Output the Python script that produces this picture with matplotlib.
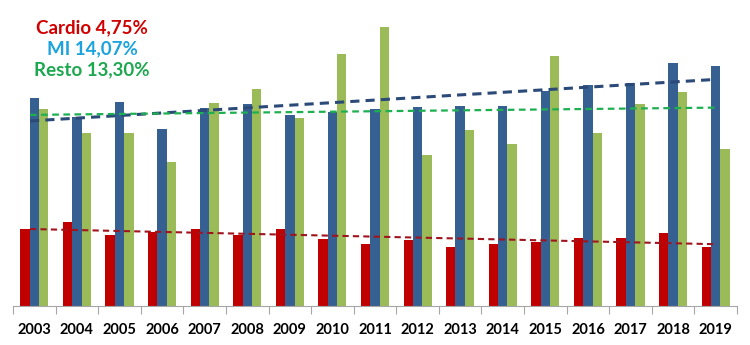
import numpy as np
import matplotlib
matplotlib.use("Agg")
import matplotlib.pyplot as plt

years = [str(y) for y in range(2003, 2020)]
cardio = [77, 84, 71, 74, 77, 71, 77, 67, 62, 66, 59, 62, 64, 68, 68, 73, 59]
mi = [208, 189, 204, 177, 198, 202, 191, 194, 197, 199, 200, 200, 215, 221, 223, 243, 240]
resto = [197, 173, 173, 144, 203, 217, 188, 252, 279, 151, 176, 162, 250, 173, 202, 214, 157]
labels = ["Cardio 4,75%", "MI 14,07%", "Resto 13,30%"]

bar_colors = ["#C00000", "#376092", "#9BBB59"]
trend_colors = ["#A0141E", "#2B4A78", "#1DB050"]
text_colors = ["#D00000", "#1AA3DC", "#1DA850"]

fig = plt.figure(figsize=(7.5, 3.45), dpi=100)
ax = fig.add_axes([13 / 750, 39 / 345, 724 / 750, 286 / 345])

x = np.arange(len(years))
w = 0.22
for i, (vals, c) in enumerate(zip([cardio, mi, resto], bar_colors)):
    ax.bar(x + (i - 1) * w, vals, width=w, color=c, zorder=2)

# linear trend lines
lw = [1.5, 2.2, 1.6]
for i, vals in enumerate([cardio, mi, resto]):
    k, b = np.polyfit(x, vals, 1)
    ax.plot([x[0] - 0.1, x[-1]], [k * (x[0] - 0.1) + b, k * x[-1] + b],
            ls=(0, (3, 2)), color=trend_colors[i], lw=lw[i], zorder=3)

ax.set_xlim(-0.5, len(years) - 0.5)
ax.set_ylim(0, 286)
ax.set_yticks([])
for s in ["top", "right", "left"]:
    ax.spines[s].set_visible(False)
ax.spines["bottom"].set_color("#A6A6A6")

ax.set_xticks(np.arange(-0.5, len(years)), minor=False)
ax.set_xticklabels([])
ax.set_xticks(x, minor=True)
ax.set_xticklabels(years, minor=True, fontsize=10.5, fontweight="bold", family="Lato")
ax.tick_params(axis="x", which="major", length=6, color="#A6A6A6", direction="out")
ax.tick_params(axis="x", which="minor", length=0, pad=12)

for j, (t, c) in enumerate(zip(labels, text_colors)):
    fig.text(92 / 750, 1 - (28 + 21 * j) / 345, t, color=c, fontsize=13.5,
             fontweight="bold", family="Lato", ha="center", va="center")

fig.savefig("out.png", dpi=100)
